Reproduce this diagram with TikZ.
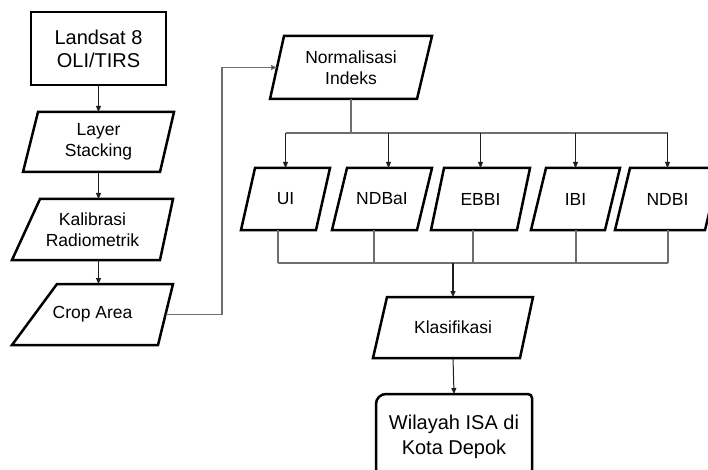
\documentclass[tikz,border=0pt]{standalone}
\usepackage{fontspec}
\setmainfont{Liberation Sans}
\usetikzlibrary{arrows.meta}
\definecolor{conncol}{RGB}{110,110,110}
\definecolor{arrcol}{RGB}{30,30,30}
\tikzset{
  x=1pt, y=-1pt,
  holder/.style={inner sep=0pt, outer sep=0pt, align=center, minimum width=#1},
  box/.style={draw=black, line width=2.5pt, line join=miter},
  txt/.style={font=\fontsize{17.5}{21}\selectfont},
  bigtxt/.style={font=\fontsize{20}{24}\selectfont},
  conn/.style={draw=conncol, line width=1.1pt},
  arr/.style={draw=arrcol, line width=1pt, -{Triangle[length=6pt,width=5pt]}},
  garr/.style={draw=conncol, line width=1.1pt, -{Triangle[length=6pt,width=5pt,fill=arrcol]}},
}
\begin{document}
\begin{tikzpicture}
\useasboundingbox (0,0) rectangle (708,470);
\clip (0,0) rectangle (708,470);
\fill[white] (0,0) rectangle (708,470);

% left column
\node[holder=135pt, minimum height=73pt, draw, line width=2.8pt, bigtxt, font=\fontsize{20}{23}\selectfont] (land) at (98.5,48.5) {Landsat 8\\OLI/TIRS};
\node[holder=151pt, minimum height=60pt, txt] (lay) at (98.5,142) {Layer\\Stacking};
\node[holder=161pt, minimum height=61pt, txt] (kal) at (92.5,229.5) {Kalibrasi\\Radiometrik};
\node[holder=161pt, minimum height=61pt, txt] (crop) at (92.5,314.5) {Crop Area};

\draw[box] (lay.south west) -- ([xshift=15]lay.north west) -- (lay.north east) -- ([xshift=-14]lay.south east) -- cycle;
\draw[box] (kal.south west) -- ([xshift=28]kal.north west) -- (kal.north east) -- ([xshift=-13]kal.south east) -- cycle;
\draw[box] (crop.south west) -- ([xshift=45]crop.north west) -- (crop.north east) -- ([xshift=-15]crop.south east) -- cycle;

\draw[arr] (land.south) -- (land.south |- lay.north);
\draw[arr] (lay.south) -- (lay.south |- kal.north);
\draw[arr] (lay.south |- kal.south) -- (lay.south |- crop.north);

% normalisasi
\node[holder=162pt, minimum height=63pt, txt, font=\fontsize{17.5}{20.5}\selectfont] (norm) at (351,67.5) {Normalisasi\\Indeks};
\draw[box] (norm.south west) -- ([xshift=14]norm.north west) -- (norm.north east) -- ([xshift=-15]norm.south east) -- cycle;

\draw[garr] ([xshift=-7.5]crop.east) -| ([xshift=-48]norm.west) -- ([xshift=7]norm.west);

% index row
\node[holder=89pt, minimum height=62pt, txt] (ui) at (285.5,199) {UI};
\node[holder=100pt, minimum height=62pt, txt] (ndbai) at (382,199) {NDBaI};
\node[holder=99pt, minimum height=62pt, txt] (ebbi) at (480.5,199) {EBBI};
\node[holder=89pt, minimum height=62pt, txt] (ibi) at (575.5,199) {IBI};
\node[holder=105pt, minimum height=62pt, txt] (ndbi) at (667.5,199) {NDBI};

\foreach \n/\s in {ui/14, ndbai/15, ebbi/13, ibi/15, ndbi/15}{
  \draw[box] (\n.south west) -- ([xshift=\s]\n.north west) -- (\n.north east) -- ([xshift=-\s]\n.south east) -- cycle;
}

\coordinate (split) at (351,133);
\draw[conn] (norm.south) -- (split);
\draw[conn] (ui.north |- split) -- (ndbi.north |- split);
\draw[arr] (ui.north |- split) -- (ui.north);
\draw[arr] ([xshift=6.5]ndbai.north |- split) -- ([xshift=6.5]ndbai.north);
\draw[arr] (ebbi.north |- split) -- (ebbi.north);
\draw[arr] (ibi.north |- split) -- (ibi.north);
\draw[arr] (ndbi.north |- split) -- (ndbi.north);

% merge
\coordinate (merge) at (453,263);
\draw[conn] ([xshift=-7.5]ui.south) -- ([xshift=-7.5]ui.south |- merge);
\draw[conn] ([xshift=-8]ndbai.south) -- ([xshift=-8]ndbai.south |- merge);
\draw[conn] ([xshift=-7.5]ebbi.south) -- ([xshift=-7.5]ebbi.south |- merge);
\draw[conn] ([xshift=0.5]ibi.south) -- ([xshift=0.5]ibi.south |- merge);
\draw[conn] ([xshift=0.5]ndbi.south) -- ([xshift=0.5]ndbi.south |- merge);
\draw[conn] ([xshift=-7.5]ui.south |- merge) -- ([xshift=0.5]ndbi.south |- merge);

% klasifikasi
\node[holder=160pt, minimum height=61pt, txt] (kla) at (453,327.5) {Klasifikasi};
\draw[box] (kla.south west) -- ([xshift=14]kla.north west) -- (kla.north east) -- ([xshift=-13]kla.south east) -- cycle;
\draw[arr, line width=1.3pt] (merge) -- (kla.north);

% wilayah
\node[holder=156pt, minimum height=86pt, font=\fontsize{20}{25}\selectfont] (wil) at (454,437) {Wilayah ISA di\\Kota Depok};
\draw[box] ([yshift=-20]wil.south west) [rounded corners=10pt] -- (wil.north west) [rounded corners=4pt] -- (wil.north east) [sharp corners] -- ([yshift=-20]wil.south east);
\draw[arr] (kla.south) -- (wil.north);
\end{tikzpicture}
\end{document}
